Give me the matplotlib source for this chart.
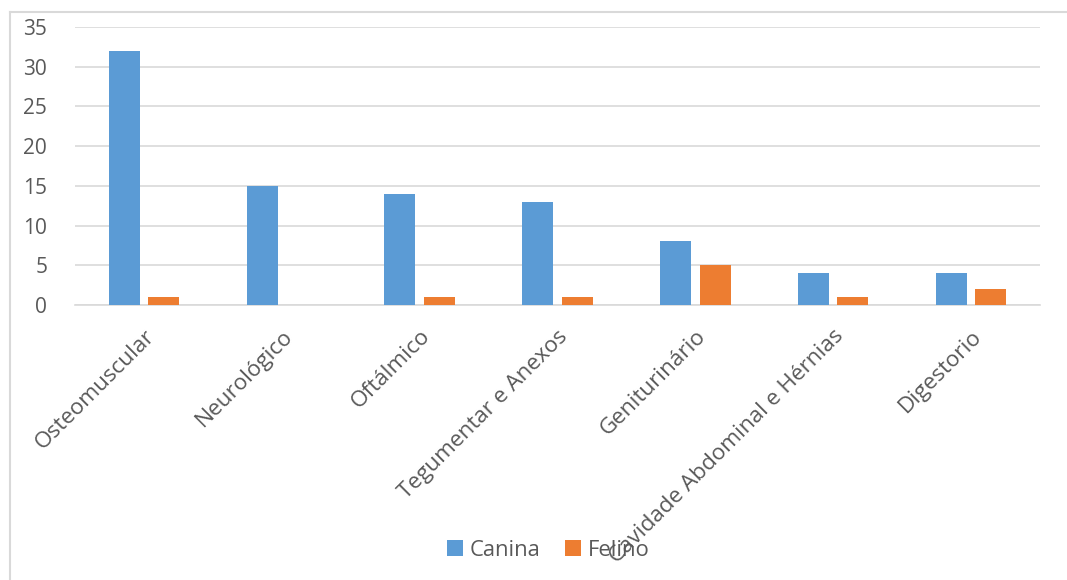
import matplotlib.pyplot as plt
import numpy as np
from matplotlib.lines import Line2D

categories = ['Osteomuscular', 'Neurológico', 'Oftálmico', 'Tegumentar e Anexos',
              'Geniturinário', 'Cavidade Abdominal e Hérnias', 'Digestorio']
canina = [32, 15, 14, 13, 8, 4, 4]
felino = [1, 0, 1, 1, 5, 1, 2]
series_names = ['Canina', 'Felino']
colors = ['#5B9BD5', '#ED7D31']

plt.rcParams['font.family'] = ['Open Sans', 'DejaVu Sans']
text_color = '#595959'

def main():
    fig = plt.figure(figsize=(10.67, 5.8), dpi=100)
    W, H = 1067, 580
    ax = fig.add_axes([75 / W, (H - 305) / H, 965 / W, (305 - 27) / H])

    x = np.arange(len(categories))
    w = 0.225
    off = 0.143
    ax.bar(x - off, canina, w, color=colors[0], label=series_names[0], zorder=3)
    ax.bar(x + off, felino, w, color=colors[1], label=series_names[1], zorder=3)

    ax.set_xlim(-0.5, len(categories) - 0.5)
    ax.set_ylim(0, 35)
    ax.set_yticks(range(0, 36, 5))
    ax.yaxis.grid(True, color='#D9D9D9', linewidth=1.2, zorder=0)
    for s in ['top', 'right', 'left']:
        ax.spines[s].set_visible(False)
    ax.spines['bottom'].set_color('#D9D9D9')
    ax.spines['bottom'].set_linewidth(1.2)
    ax.tick_params(axis='both', length=0, colors=text_color, labelsize=15)
    ax.tick_params(axis='y', pad=20)
    ax.set_xticks(x)
    ax.set_xticklabels(categories, rotation=45, ha='right', va='top',
                       rotation_mode='anchor', fontsize=16.2, color=text_color)
    ax.tick_params(axis='x', pad=15)

    leg = fig.legend(loc='center', bbox_to_anchor=(548 / W, 1 - 550 / H), ncol=2,
                     frameon=False, fontsize=15.8, handlelength=0.75, handleheight=0.75,
                     handletextpad=0.3, columnspacing=1.1)
    for t in leg.get_texts():
        t.set_color(text_color)

    # outer chart frame (top and left edges visible)
    fig.add_artist(Line2D([10 / W, 1], [1 - 12 / H, 1 - 12 / H], color='#D9D9D9', linewidth=1.5))
    fig.add_artist(Line2D([10 / W, 10 / W], [0, 1 - 12 / H], color='#D9D9D9', linewidth=1.5))

    fig.savefig('out.png', dpi=100)

if __name__ == '__main__':
    main()
